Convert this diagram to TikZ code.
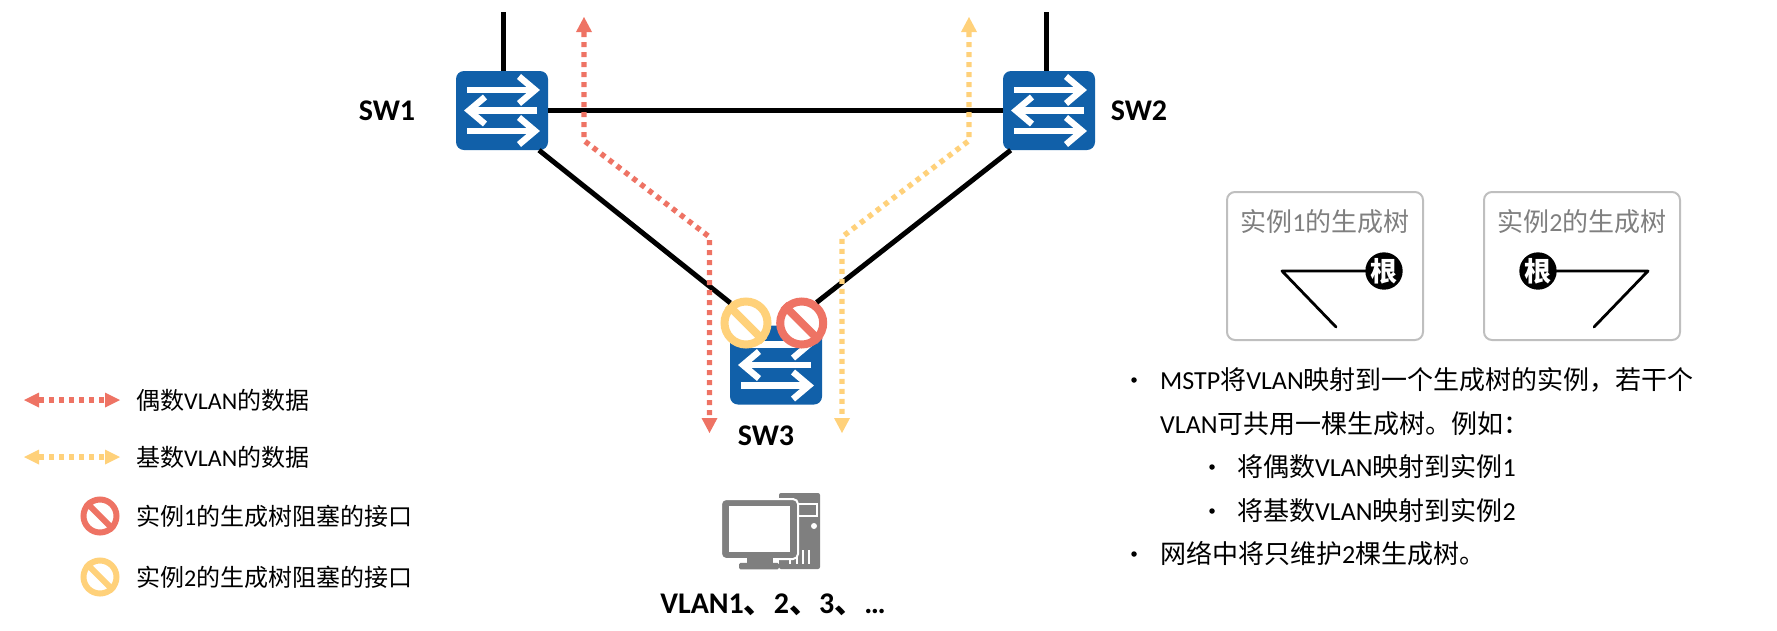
\documentclass[tikz,border=0pt]{standalone}
\usepackage{fontspec}
\setmainfont{Carlito}
\newfontfamily\cjk{Noto Sans CJK SC}
\newcommand{\cj}[1]{{\cjk #1}}
\definecolor{swblue}{HTML}{1160A9}
\definecolor{redc}{HTML}{EE7364}
\definecolor{orac}{HTML}{FFD17A}
\definecolor{grayc}{HTML}{7F7F7F}
\definecolor{boxc}{HTML}{BFBFBF}
\usetikzlibrary{arrows.meta}
\tikzset{
  x=1pt,y=-1pt,
  switchbox/.style={fill=swblue,rounded corners=8pt,minimum width=92pt,minimum height=79pt,inner sep=0pt,draw=none},
  whitearrow/.style={draw=white,line width=6.4pt},
  link/.style={draw=black,line width=5pt},
  treelink/.style={draw=black,line width=2.8pt,line cap=round,line join=round},
  flowline/.style={line width=5.4pt,dash pattern=on 5pt off 5pt},
  flowred/.style={flowline,draw=redc},
  flowora/.style={flowline,draw=orac},
  headred/.style={fill=redc,draw=none},
  headora/.style={fill=orac,draw=none},
  signbig/.style={circle,draw=#1,line width=8pt,minimum size=43pt,inner sep=0pt,fill=white},
  signsmall/.style={circle,draw=#1,line width=6pt,minimum size=33pt,inner sep=0pt,fill=white},
  lab/.style={font=\fontsize{30}{32}\selectfont\bfseries,inner sep=0pt},
  legendtext/.style={font=\fontsize{24}{28}\selectfont,anchor=west,inner sep=0pt},
  bodytext/.style={font=\fontsize{26}{30}\selectfont,anchor=west,inner sep=0pt},
  treebox/.style={draw=boxc,line width=2pt,rounded corners=8pt,minimum width=196pt,minimum height=148pt,inner sep=0pt},
  treetitle/.style={font=\fontsize{26}{30}\selectfont,text=grayc,inner sep=0pt},
  rootnode/.style={circle,fill=black,text=white,minimum size=36pt,inner sep=0pt,font=\fontsize{27}{28}\selectfont\bfseries\cjk},
  bulletdot/.style={circle,fill=black,minimum size=5.5pt,inner sep=0pt},
}
\newcommand{\swarrows}[1]{%
  \begin{scope}[shift={(#1.center)}]
    \draw[whitearrow] (-35,-20.5) -- (32,-20.5);
    \draw[whitearrow,line join=miter] (17,-34) -- (33,-20.5) -- (17,-7);
    \draw[whitearrow] (35,0) -- (-32,0);
    \draw[whitearrow,line join=miter] (-17,-13.5) -- (-33,0) -- (-17,13.5);
    \draw[whitearrow] (-35,20.5) -- (32,20.5);
    \draw[whitearrow,line join=miter] (17,7) -- (33,20.5) -- (17,34);
  \end{scope}}
\begin{document}
\begin{tikzpicture}
\useasboundingbox (0,0) rectangle (1777,630);
% switches
\node[switchbox] (sw1) at (502,110.5) {};
\node[switchbox] (sw2) at (1049,110.5) {};
\node[switchbox] (sw3) at (776,365) {};
\swarrows{sw1}\swarrows{sw2}\swarrows{sw3}
% free ends
\coordinate (up1) at (503,12);
\coordinate (up2) at (1046,12);
% blocked ports
\node[signbig=orac] (ya) at (746,323) {};
\node[signbig=redc] (rb) at (801.7,323) {};
\draw[orac,line width=8pt] (ya.135) -- (ya.-45);
\draw[redc,line width=8pt] (rb.135) -- (rb.-45);
% links
\draw[link] (up1) -- (up1 |- sw1.north);
\draw[link] (up2) -- (up2 |- sw2.north);
\draw[link] (sw1.east) -- (sw2.west);
\draw[link] (sw1.-47) -- (ya.128.6);
\draw[link] (sw2.-134) -- (rb.54.4);
% flows
\coordinate (r0) at (584,32);
\coordinate (r1) at (584,140.6);
\coordinate (r2) at (709.5,237);
\coordinate (r3) at (709.5,418);
\coordinate (o0) at (969,32);
\coordinate (o1) at (969,140.6);
\coordinate (o2) at (842,237);
\coordinate (o3) at (842,418);
\draw[flowred] (r0) -- (r1) -- (r2) -- (r3);
\draw[flowora] (o0) -- (o1) -- (o2) -- (o3);
\fill[headred] (584,17) -- (592,32) -- (576,32) -- cycle;
\fill[headred] (709.5,433) -- (717.5,418) -- (701.5,418) -- cycle;
\fill[headora] (969,17) -- (977,32) -- (961,32) -- cycle;
\fill[headora] (842,433) -- (850,418) -- (834,418) -- cycle;
% labels
\node[lab] (l1) at (387,111) {SW1};
\node[lab] (l2) at (1139,111) {SW2};
\node[lab] (l3) at (766,436) {SW3};
\node[lab] (vl) at (773,605) {VLAN1\cj{、}2\cj{、}3\cj{、}…};
% PC
\node[fill=grayc,rounded corners=2pt,minimum width=41pt,minimum height=76pt,inner sep=0pt] (tower) at (799.5,531) {};
\node[draw=white,line width=1.5pt,fill=none,minimum width=20pt,minimum height=12pt,inner sep=0pt] (bay) at (807,510) {};
\node[circle,fill=white,minimum size=6pt,inner sep=0pt] (btn) at (814,526) {};
\foreach \vx in {790,797,803,809}{\draw[white,line width=1.5pt] (\vx,550) -- (\vx,564);}
\node[fill=grayc,draw=white,line width=2pt,rounded corners=5pt,minimum width=77pt,minimum height=60pt,inner sep=0pt] (mon) at (759.5,529) {};
\node[fill=white,minimum width=61pt,minimum height=46pt,inner sep=0pt] (scr) at (759.5,529) {};
\node[fill=grayc,minimum width=26pt,minimum height=5pt,inner sep=0pt] (neck) at (760,560.5) {};
\node[fill=grayc,rounded corners=1.5pt,minimum width=40pt,minimum height=6.5pt,inner sep=0pt] (base) at (759,566) {};
% legend
\draw[flowred] (39,400) -- (105,400);
\draw[flowora] (39,457) -- (105,457);
\fill[headred] (24,400) -- (39,392.5) -- (39,407.5) -- cycle;
\fill[headred] (120,400) -- (105,392.5) -- (105,407.5) -- cycle;
\fill[headora] (24,457) -- (39,449.5) -- (39,464.5) -- cycle;
\fill[headora] (120,457) -- (105,449.5) -- (105,464.5) -- cycle;
\node[signsmall=redc] (lg1) at (100,516) {};
\node[signsmall=orac] (lg2) at (100,577) {};
\draw[redc,line width=6pt] (lg1.135) -- (lg1.-45);
\draw[orac,line width=6pt] (lg2.135) -- (lg2.-45);
\node[legendtext] (t1) at (136,400) {\cj{偶数}VLAN\cj{的数据}};
\node[legendtext] (t2) at (136,457) {\cj{基数}VLAN\cj{的数据}};
\node[legendtext] (t3) at (136,516) {\cj{实例}1\cj{的生成树阻塞的接口}};
\node[legendtext] (t4) at (136,577) {\cj{实例}2\cj{的生成树阻塞的接口}};
% tree boxes
\node[treebox] (b1) at (1325,266) {};
\node[treebox] (b2) at (1582,266) {};
\node[treetitle] (bt1) at (1325,222) {\cj{实例}1\cj{的生成树}};
\node[treetitle] (bt2) at (1582,222) {\cj{实例}2\cj{的生成树}};
\coordinate (v1) at (1282,271);
\coordinate (e1) at (1336,327);
\coordinate (v2) at (1648,271);
\coordinate (e2) at (1594,327);
\node[rootnode] (rt1) at (1384,271) {根};
\node[rootnode] (rt2) at (1538,271) {根};
\draw[treelink] (rt1) -- (v1) -- (e1);
\draw[treelink] (rt2) -- (v2) -- (e2);
% text
\node[bulletdot] (d1) at (1134,380) {};
\node[bulletdot] (d2) at (1212,467) {};
\node[bulletdot] (d3) at (1212,511) {};
\node[bulletdot] (d4) at (1134,554) {};
\node[bodytext] (m1) at (1160,380) {MSTP\cj{将}VLAN\cj{映射到一个生成树的实例，若干个}};
\node[bodytext] (m2) at (1160,424) {VLAN\cj{可共用一棵生成树。例如：}};
\node[bodytext] (m3) at (1237,467) {\cj{将偶数}VLAN\cj{映射到实例}1};
\node[bodytext] (m4) at (1237,511) {\cj{将基数}VLAN\cj{映射到实例}2};
\node[bodytext] (m5) at (1160,554) {\cj{网络中将只维护}2\cj{棵生成树。}};
\end{tikzpicture}
\end{document}
